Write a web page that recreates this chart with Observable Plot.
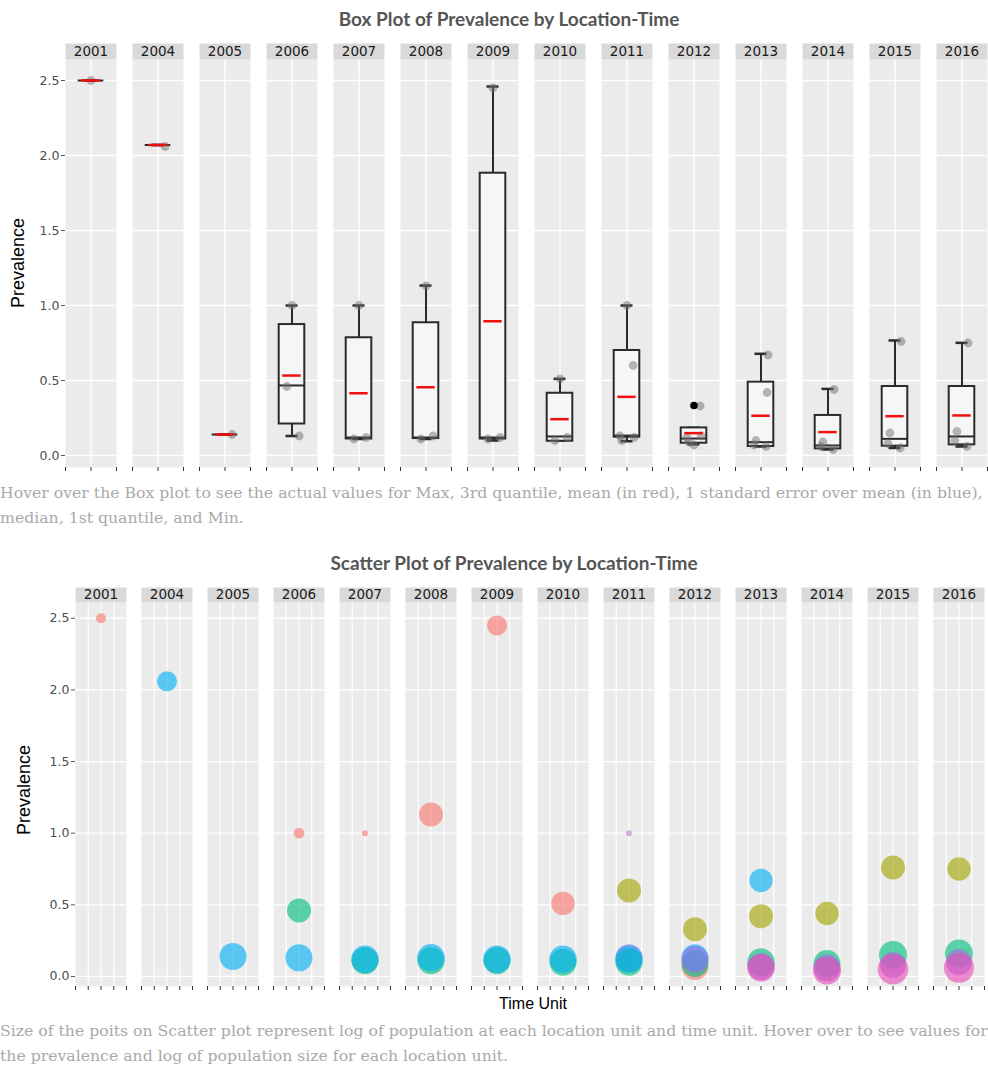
<!DOCTYPE html>
<html><head><meta charset="utf-8">
<script src="https://cdn.jsdelivr.net/npm/d3@7"></script>
<script src="https://cdn.jsdelivr.net/npm/@observablehq/plot@0.6"></script>
<style>
html,body{margin:0;padding:0;background:#fff;}
body{width:988px;height:1072px;overflow:hidden;position:relative;}
.abs{position:absolute;}
.title{font-family:Lato,"Open Sans",sans-serif;font-weight:bold;font-size:19px;line-height:24px;color:#555;white-space:nowrap;transform:translateX(-50%);}
.cap{font-family:"DejaVu Serif",serif;font-size:15.7px;line-height:20px;color:#a9a9a9;white-space:nowrap;left:0;}
.ylab{font-family:"Liberation Sans",Arial,sans-serif;font-size:18px;line-height:20px;color:#000;white-space:nowrap;transform:translate(-50%,-50%) rotate(-90deg);}
.xlab{font-family:"Liberation Sans",Arial,sans-serif;font-size:16px;line-height:20px;color:#000;white-space:nowrap;transform:translate(-50%,-50%);}
</style></head><body>
<div class="abs title" style="left:509px;top:7px">Box Plot of Prevalence by Location-Time</div>
<div id="box" class="abs" style="left:0;top:30px"></div>
<div class="abs ylab" style="left:18px;top:263px">Prevalence</div>
<div class="abs cap" style="top:483px">Hover over the Box plot to see the actual values for Max, 3rd quantile, mean (in red), 1 standard error over mean (in blue),</div>
<div class="abs cap" style="top:508px">median, 1st quantile, and Min.</div>
<div class="abs title" style="left:514px;top:551px">Scatter Plot of Prevalence by Location-Time</div>
<div id="sc" class="abs" style="left:0;top:575px"></div>
<div class="abs ylab" style="left:24px;top:790px">Prevalence</div>
<div class="abs xlab" style="left:533px;top:1004px">Time Unit</div>
<div class="abs cap" style="top:1021px">Size of the poits on Scatter plot represent log of population at each location unit and time unit. Hover over to see values for</div>
<div class="abs cap" style="top:1046px">the prevalence and log of population size for each location unit.</div>
<script>
// ---- data ----
const years = ["2001","2004","2005","2006","2007","2008","2009","2010","2011","2012","2013","2014","2015","2016"];
const boxLow    = [2.50, 2.07, 0.14, 0.13, 0.11, 0.11, 0.10, 0.10, 0.095, 0.075, 0.06, 0.04, 0.05, 0.06];
const boxQ1     = [2.50, 2.07, 0.14, 0.21, 0.11, 0.113, 0.11, 0.095, 0.122, 0.082, 0.06, 0.044, 0.062, 0.071];
const boxMedian = [2.50, 2.07, 0.14, 0.467, 0.12, 0.12, 0.12, 0.127, 0.133, 0.113, 0.089, 0.067, 0.111, 0.127];
const boxQ3     = [2.50, 2.07, 0.14, 0.873, 0.785, 0.885, 1.882, 0.415, 0.70, 0.184, 0.489, 0.267, 0.46, 0.46];
const boxHigh   = [2.50, 2.07, 0.14, 1.00, 1.00, 1.133, 2.46, 0.511, 1.00, 0.184, 0.678, 0.444, 0.767, 0.751];
const boxMean   = [2.50, 2.07, 0.14, 0.533, 0.415, 0.455, 0.895, 0.242, 0.391, 0.149, 0.265, 0.156, 0.262, 0.267];
const outlierYear = ["2012"];
const outlierValue = [0.333];

const locations = ["L1","L2","L3","L4","L5","L6","L7"];
const locColors = ["#F8766D","#A3A500","#00BF7D","#00B0F6","#9C6FE2","#E84AB8","#C77CD6"];

const ptYear = ["2001","2004","2005",
  "2006","2006","2006",
  "2007","2007","2007",
  "2008","2008","2008",
  "2009","2009","2009",
  "2010","2010","2010",
  "2011","2011","2011","2011","2011",
  "2012","2012","2012","2012","2012",
  "2013","2013","2013","2013","2013",
  "2014","2014","2014","2014",
  "2015","2015","2015","2015",
  "2016","2016","2016","2016"];
const ptLoc = ["L1","L4","L4",
  "L1","L3","L4",
  "L1","L3","L4",
  "L1","L3","L4",
  "L1","L3","L4",
  "L1","L3","L4",
  "L7","L2","L5","L3","L4",
  "L2","L1","L3","L4","L5",
  "L4","L2","L3","L5","L6",
  "L2","L3","L5","L6",
  "L2","L3","L5","L6",
  "L2","L3","L5","L6"];
const ptPrev = [2.50, 2.06, 0.14,
  1.00, 0.46, 0.13,
  1.00, 0.11, 0.12,
  1.13, 0.11, 0.13,
  2.45, 0.11, 0.12,
  0.51, 0.10, 0.12,
  1.00, 0.60, 0.13, 0.10, 0.12,
  0.33, 0.07, 0.09, 0.13, 0.12,
  0.67, 0.42, 0.10, 0.07, 0.06,
  0.44, 0.09, 0.06, 0.04,
  0.76, 0.15, 0.08, 0.05,
  0.75, 0.16, 0.10, 0.06];
const ptLogPop = [5.3, 10.7, 14.4,
  5.7, 12.8, 14.4,
  3.2, 14.4, 14.7,
  12.8, 14.4, 14.7,
  10.7, 14.4, 14.7,
  12.5, 14.4, 14.7,
  3.2, 12.8, 14.4, 14.4, 14.7,
  12.8, 14.4, 14.4, 14.4, 14.4,
  12.5, 12.8, 14.7, 14.4, 14.7,
  12.5, 14.4, 14.4, 14.9,
  12.8, 14.9, 13.9, 16.3,
  12.5, 14.9, 13.9, 16.0];
const yTicks = [0, 0.5, 1, 1.5, 2, 2.5];

// ---- tables ----
const boxData = years.map((y, i) => ({year: y, lo: boxLow[i], q1: boxQ1[i], median: boxMedian[i], q3: boxQ3[i], hi: boxHigh[i], mean: boxMean[i]}));
const pts = ptYear.map((y, i) => ({year: y, loc: ptLoc[i], prev: ptPrev[i], logPop: ptLogPop[i]}));
const outliers = outlierYear.map((y, i) => ({year: y, value: outlierValue[i]}));

// jitter of the grey points (presentation only)
const jitter = {L1: 0.5, L2: 0.62, L3: 0.4, L4: 0.64, L5: 0.36, L6: 0.6, L7: 0.5};

const font = {fontFamily: "DejaVu Sans, sans-serif", fontSize: "12.5px", color: "#4D4D4D", background: "transparent", overflow: "visible"};
const stroke = "#2b2b2b";

const boxPlot = Plot.plot({
  width: 988, height: 447,
  marginLeft: 65, marginRight: 0, marginTop: 29, marginBottom: 10,
  style: font,
  fx: {domain: years, paddingInner: 0.2318, paddingOuter: 0, axis: null},
  x: {domain: [0, 1], axis: null},
  y: {domain: [-0.08, 2.64], axis: null},
  marks: [
    Plot.frame({fill: "#EBEBEB"}),
    Plot.frame({fill: "#D9D9D9", insetTop: -16, insetBottom: 408}),
    Plot.text(years, {fx: d => d, text: d => d, frameAnchor: "top", lineAnchor: "middle", dy: -8, fill: "#1A1A1A", fontSize: 13.5}),
    Plot.gridY({ticks: yTicks, stroke: "white", strokeOpacity: 1, strokeWidth: 1.3}),
    Plot.gridX({ticks: [0.5], stroke: "white", strokeOpacity: 1, strokeWidth: 1.3}),
    Plot.axisX({ticks: [0, 0.5, 1], tickFormat: () => "", tickSize: 4, stroke: "#333"}),
    Plot.axisY({ticks: yTicks, tickFormat: d3.format(".1f"), tickSize: 4, tickPadding: 2, label: null, stroke: "#555", fill: "#4D4D4D"}),
    Plot.ruleX(boxData, {fx: "year", x: () => 0.5, y1: "lo", y2: "hi", stroke, strokeWidth: 2}),
    Plot.ruleY(boxData, {fx: "year", y: "hi", insetLeft: 19.5, insetRight: 19.5, stroke, strokeWidth: 2.5}),
    Plot.ruleY(boxData, {fx: "year", y: "lo", insetLeft: 19.5, insetRight: 19.5, stroke, strokeWidth: 2.5}),
    Plot.rect(boxData, {fx: "year", y1: "q1", y2: "q3", insetLeft: 12.7, insetRight: 12.7, fill: "#F6F6F6", stroke, strokeWidth: 2}),
    Plot.ruleY(boxData, {fx: "year", y: "median", insetLeft: 12.7, insetRight: 12.7, stroke, strokeWidth: 2}),
    Plot.dot(pts, {fx: "year", y: "prev", x: d => jitter[d.loc], r: 4.4, fill: "#6f6f6f", fillOpacity: 0.5, stroke: "none"}),
    Plot.dot(outliers, {fx: "year", y: "value", x: () => 0.5, r: 3.8, fill: "#000", stroke: "none"}),
    Plot.ruleY(boxData, {fx: "year", y: "mean", insetLeft: 16.3, insetRight: 16.3, stroke: "#F01010", strokeWidth: 2.5})
  ]
});
document.getElementById("box").appendChild(boxPlot);

const scPlot = Plot.plot({
  width: 988, height: 421,
  marginLeft: 70, marginRight: 0, marginTop: 27, marginBottom: 10,
  style: font,
  fx: {domain: years, paddingInner: 0.2273, paddingOuter: 0, axis: null},
  x: {domain: [0, 1], axis: null},
  y: {domain: [-0.07, 2.61], axis: null},
  r: {type: "linear", domain: [0, 16], range: [0, 15]},
  color: {domain: locations, range: locColors},
  marks: [
    Plot.frame({fill: "#EBEBEB"}),
    Plot.frame({fill: "#D9D9D9", insetTop: -15, insetBottom: 384}),
    Plot.text(years, {fx: d => d, text: d => d, frameAnchor: "top", lineAnchor: "middle", dy: -7.5, fill: "#1A1A1A", fontSize: 13.5}),
    Plot.gridY({ticks: yTicks, stroke: "white", strokeOpacity: 1, strokeWidth: 1.3}),
    Plot.gridX({ticks: [0.25, 0.5, 0.75], stroke: "white", strokeOpacity: 1, strokeWidth: 1.1}),
    Plot.axisX({ticks: [0, 0.25, 0.5, 0.75, 1], tickFormat: () => "", tickSize: 4, stroke: "#333"}),
    Plot.axisY({ticks: yTicks, tickFormat: d3.format(".1f"), tickSize: 4, tickPadding: 2, label: null, stroke: "#555", fill: "#4D4D4D"}),
    Plot.dot(pts, {fx: "year", y: "prev", x: () => 0.5, r: "logPop", fill: "loc", fillOpacity: 0.62, stroke: "none", sort: null})
  ]
});
document.getElementById("sc").appendChild(scPlot);
</script>
</body></html>
